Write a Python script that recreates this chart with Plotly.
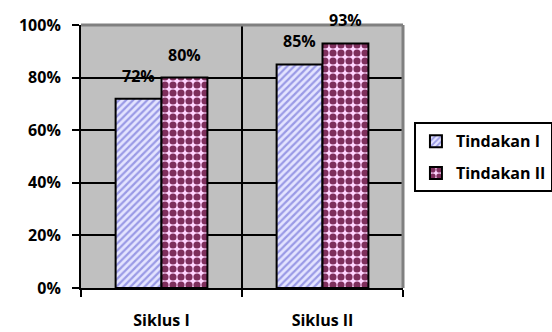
import plotly.graph_objects as go

categories = ["Siklus I", "Siklus II"]
tindakan1 = [0.72, 0.85]
tindakan2 = [0.80, 0.93]
series_names = ["Tindakan I", "Tindakan II"]
y_ticks = [0, 0.2, 0.4, 0.6, 0.8, 1.0]

FONT = "Open Sans"

fig = go.Figure()
fig.add_trace(go.Bar(
    name=series_names[0], x=categories, y=tindakan1, legendgroup="a",
    marker=dict(color="#e4e4ff",
                line=dict(color="black", width=2),
                pattern=dict(shape="/", size=5, solidity=0.45,
                             fgcolor="#9a9ae6", bgcolor="#e4e4ff", fillmode="replace")),
))
fig.add_trace(go.Bar(
    name=series_names[1], x=categories, y=tindakan2, legendgroup="b",
    marker=dict(color="#ffd4ff",
                line=dict(color="black", width=2),
                pattern=dict(shape=".", size=8, solidity=0.62,
                             fgcolor="#7e2e5c", bgcolor="#ffd4ff", fillmode="replace")),
))

# value labels above bars (grouped offsets: left/right half of the bar pair)
for vals, dx in [(tindakan1, -23), (tindakan2, 23)]:
    for cat, v in zip(categories, vals):
        fig.add_annotation(x=cat, y=v, xref="x", yref="y", text=f"{v:.0%}",
                           showarrow=False, yanchor="bottom", xshift=dx, yshift=10,
                           font=dict(family=FONT, size=16, color="black", weight="bold"))

fig.update_layout(
    width=552, height=332,
    margin=dict(l=81, r=149, t=25, b=44, autoexpand=False),
    paper_bgcolor="white", plot_bgcolor="#c0c0c0",
    barmode="group", bargap=0.43, bargroupgap=0,
    font=dict(family=FONT, size=16, color="black"),
    showlegend=True,
    legend=dict(x=1.034, y=0.63, xanchor="left", yanchor="top",
                bgcolor="white", bordercolor="black", borderwidth=2,
                font=dict(family=FONT, size=16, color="black", weight="bold"),
                tracegroupgap=8, itemwidth=30),
)
fig.update_yaxes(range=[0, 1], tickvals=y_ticks, tickformat=".0%",
                 showgrid=True, gridcolor="black", gridwidth=2,
                 showline=True, linecolor="black", linewidth=2,
                 ticks="outside", ticklen=7, tickwidth=2, tickcolor="black",
                 tickfont=dict(family=FONT, size=16, weight="bold"),
                 ticklabelstandoff=8, zeroline=False, automargin=False)
fig.update_xaxes(tickson="boundaries", showgrid=True, gridcolor="black", gridwidth=2,
                 showline=True, linecolor="black", linewidth=2,
                 ticks="outside", ticklen=7, tickwidth=2, tickcolor="black",
                 tickfont=dict(family=FONT, size=16, weight="bold"),
                 ticklabelstandoff=17, automargin=False)
# plot frame (top/right) in gray
fig.add_shape(type="line", xref="paper", yref="paper", x0=0, x1=1, y0=1, y1=1,
              line=dict(color="#808080", width=3))
fig.add_shape(type="line", xref="paper", yref="paper", x0=1, x1=1, y0=0, y1=1,
              line=dict(color="#808080", width=3))

fig.write_html("out.html")
